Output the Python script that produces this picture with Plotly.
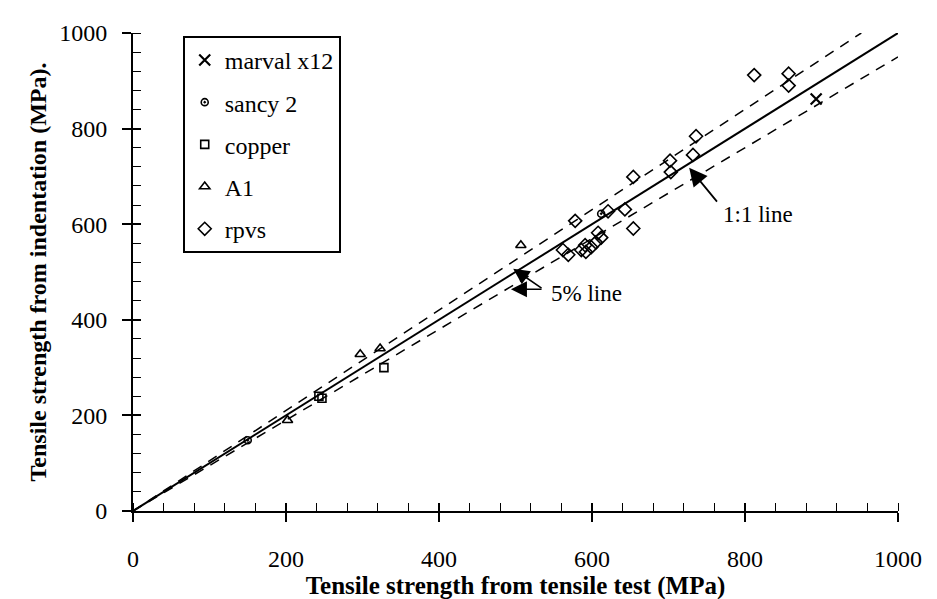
import plotly.graph_objects as go

# ---- data ----
marval_x = [893]
marval_y = [862]
sancy_x = [150, 612]
sancy_y = [148, 622]
copper_x = [243, 247, 328]
copper_y = [240, 236, 300]
al_x = [202, 297, 323, 507]
al_y = [190, 328, 340, 556]
rpvs_x = [812, 857, 857, 736, 732, 702, 703, 654, 643, 654, 578, 621,
          608, 612, 605, 599, 591, 586, 592, 562, 569]
rpvs_y = [912, 915, 890, 784, 745, 733, 709, 699, 631, 591, 607, 627,
          582, 572, 562, 552, 556, 546, 542, 546, 536]

line_x = [0, 1000]
line_y = [0, 1000]
upper_x = [0, 952]
upper_y = [0, 1000]
lower_x = [0, 1000]
lower_y = [0, 950]

tick_vals = [0, 200, 400, 600, 800, 1000]
tick_text = ["0", "200", "400", "600", "800", "1000"]

FONT = "Liberation Serif"
FS = 24

fig = go.Figure()

# reference lines
fig.add_trace(go.Scatter(x=line_x, y=line_y, mode="lines",
                         line=dict(color="black", width=2), showlegend=False, hoverinfo="skip"))
fig.add_trace(go.Scatter(x=upper_x, y=upper_y, mode="lines",
                         line=dict(color="black", width=1.5, dash="10px,8px"), showlegend=False, hoverinfo="skip"))
fig.add_trace(go.Scatter(x=lower_x, y=lower_y, mode="lines",
                         line=dict(color="black", width=1.5, dash="10px,8px"), showlegend=False, hoverinfo="skip"))

fig.add_trace(go.Scatter(x=marval_x, y=marval_y, mode="markers", name="marval x12", legendgroup="a",
                         marker=dict(symbol="x-thin-open", size=11, color="black", line=dict(color="black", width=2.2))))
fig.add_trace(go.Scatter(x=sancy_x, y=sancy_y, mode="markers", name="sancy 2", legendgroup="b",
                         marker=dict(symbol="circle-open-dot", size=7, color="black", line=dict(color="black", width=1.6))))
fig.add_trace(go.Scatter(x=copper_x, y=copper_y, mode="markers", name="copper", legendgroup="c",
                         marker=dict(symbol="square-open", size=8, color="black", line=dict(color="black", width=1.6))))
fig.add_trace(go.Scatter(x=al_x, y=al_y, mode="markers", name="A1", legendgroup="d",
                         marker=dict(symbol="triangle-up-open", size=9, color="black", line=dict(color="black", width=1.6))))
fig.add_trace(go.Scatter(x=rpvs_x, y=rpvs_y, mode="markers", name="rpvs", legendgroup="e",
                         marker=dict(symbol="diamond-open", size=10, color="black", line=dict(color="black", width=1.6))))

axis_common = dict(range=[0, 1000], showgrid=False, zeroline=False)

fig.update_layout(
    width=937, height=599,
    margin=dict(l=125, r=47, t=17, b=91),
    paper_bgcolor="white", plot_bgcolor="white",
    font=dict(family=FONT, size=FS, color="black"),
    xaxis=dict(**axis_common, tickvals=tick_vals, ticktext=tick_text,
               ticks="outside", ticklen=9, tickwidth=1.5, tickcolor="black",
               showline=True, linecolor="black", linewidth=2,
               ticklabelstandoff=16,
               minor=dict(dtick=40, tick0=0, ticks="inside", ticklen=8, tickwidth=1.2, tickcolor="black"),
               title=dict(text="<b>Tensile strength from tensile test (MPa)</b>", font=dict(size=25), standoff=6),
               tickfont=dict(size=FS)),
    yaxis=dict(**axis_common, tickvals=tick_vals, ticktext=tick_text,
               ticks="outside", ticklen=9, tickwidth=1.5, tickcolor="black",
               showline=True, linecolor="black", linewidth=2,
               ticklabelstandoff=10,
               minor=dict(dtick=40, tick0=0, ticks="inside", ticklen=8, tickwidth=1.2, tickcolor="black"),
               title=dict(text="<b>Tensile strength from indentation (MPa).</b>", font=dict(size=24), standoff=6),
               tickfont=dict(size=FS)),
    xaxis2=dict(**axis_common, overlaying="x", anchor="y", side="bottom", tickvals=tick_vals,
                showticklabels=False, ticks="inside", ticklen=8, tickwidth=1.5, tickcolor="black"),
    yaxis2=dict(**axis_common, overlaying="y", anchor="x", side="left", tickvals=tick_vals,
                showticklabels=False, ticks="inside", ticklen=8, tickwidth=1.5, tickcolor="black"),
    legend=dict(x=0.065, y=0.994, xanchor="left", yanchor="top",
                bordercolor="black", borderwidth=2, bgcolor="white",
                font=dict(size=FS), tracegroupgap=8, itemsizing="trace"),
    showlegend=True,
)

fig.add_trace(go.Scatter(x=[0], y=[0], xaxis="x2", yaxis="y2", mode="markers",
                         marker=dict(opacity=0), showlegend=False, hoverinfo="skip"))

# annotations
fig.add_annotation(x=727, y=718, ax=765, ay=644, xref="x", yref="y", axref="x", ayref="y",
                   showarrow=True, arrowhead=2, arrowsize=2, arrowwidth=1.8, arrowcolor="black", text="")
fig.add_annotation(x=768, y=621, xref="x", yref="y", text="1:1 line", showarrow=False,
                   xanchor="left", yanchor="middle", font=dict(size=23))
fig.add_annotation(x=497, y=507, ax=536, ay=464, xref="x", yref="y", axref="x", ayref="y",
                   showarrow=True, arrowhead=2, arrowsize=2, arrowwidth=1.6, arrowcolor="black", text="")
fig.add_annotation(x=494, y=464, ax=536, ay=464, xref="x", yref="y", axref="x", ayref="y",
                   showarrow=True, arrowhead=2, arrowsize=2, arrowwidth=1.6, arrowcolor="black", text="")
fig.add_annotation(x=544, y=455, xref="x", yref="y", text="5% line", showarrow=False,
                   xanchor="left", yanchor="middle", font=dict(size=23))

fig.write_html("out.html")
